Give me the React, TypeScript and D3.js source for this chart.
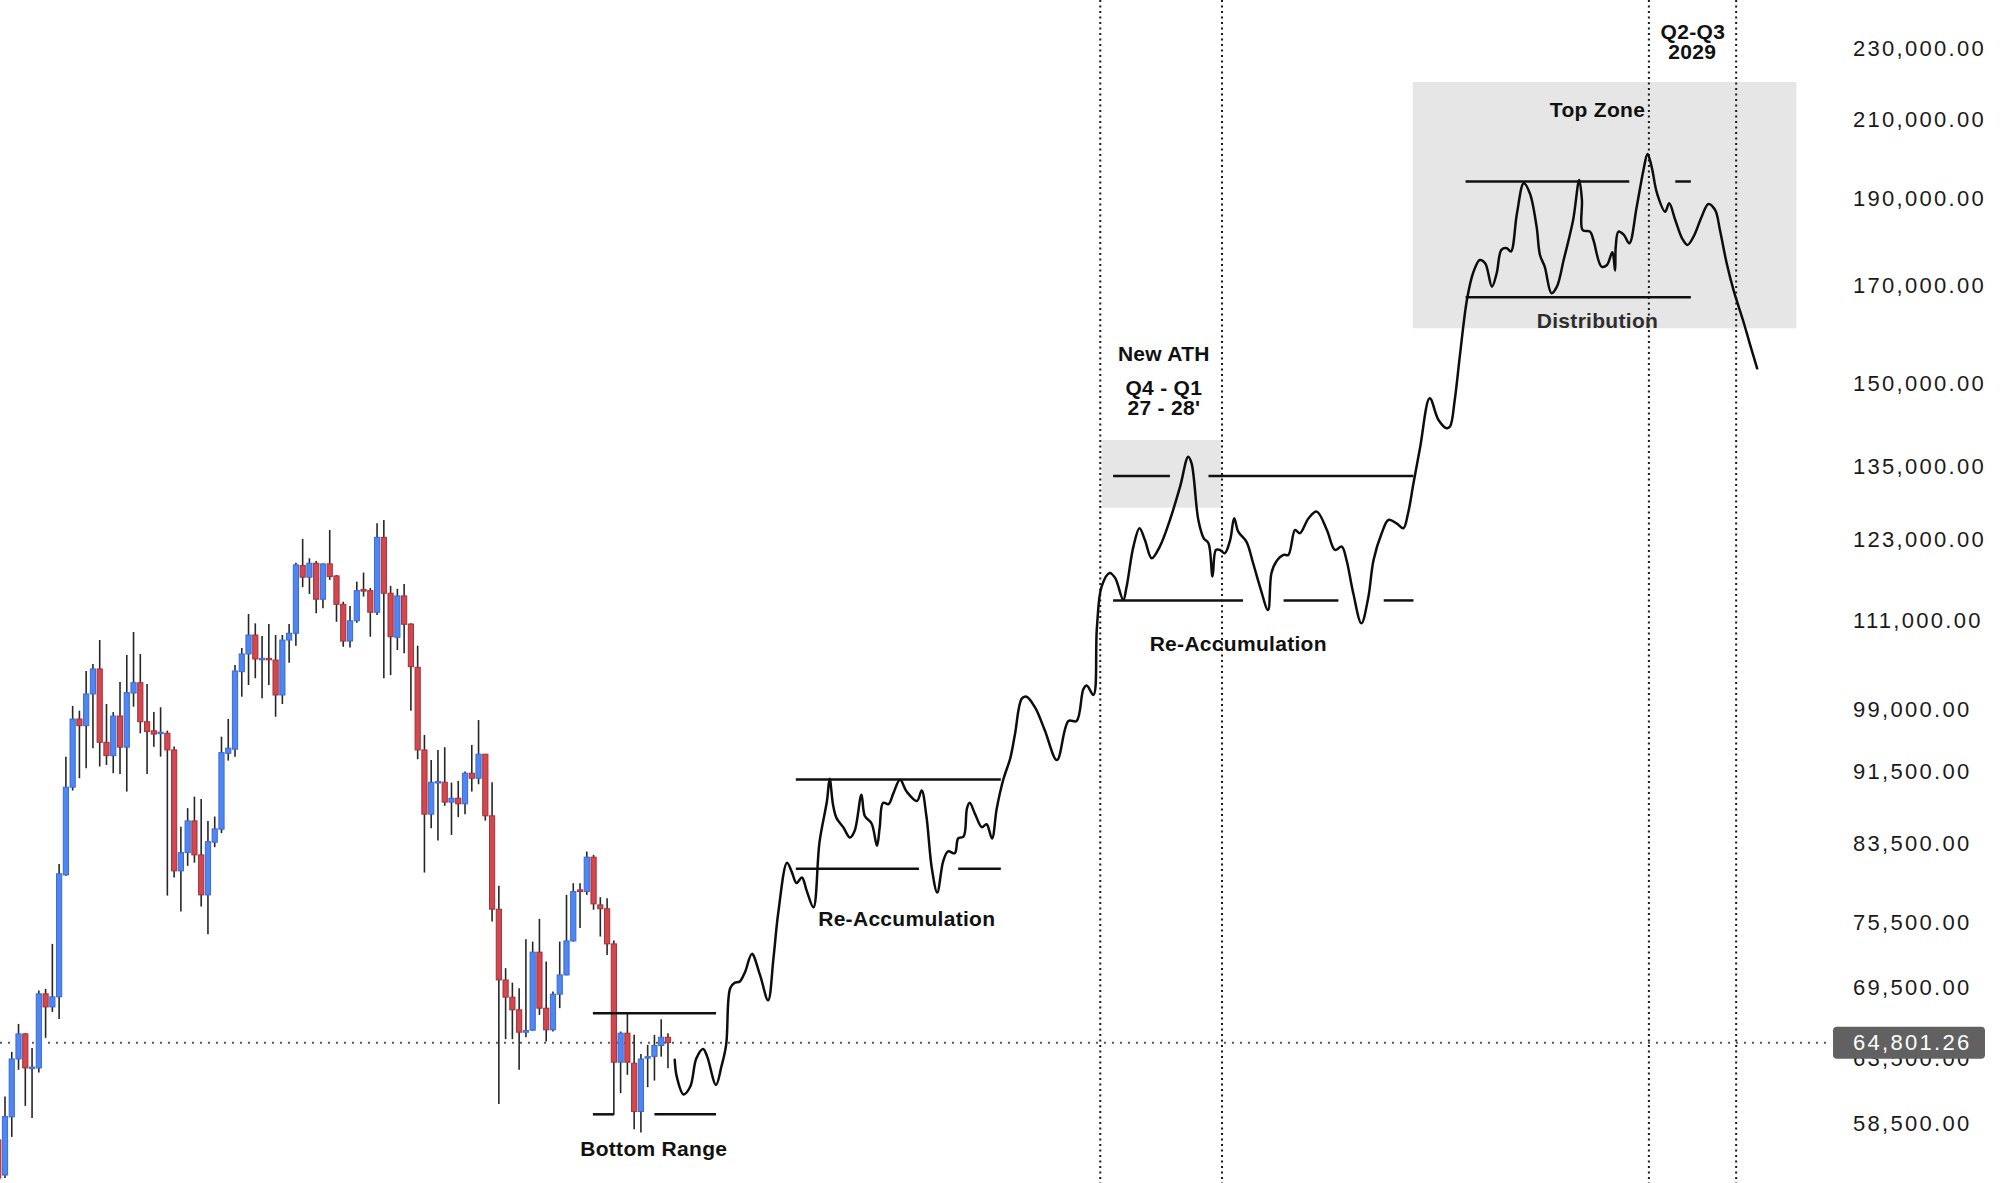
import React from 'react';
import * as d3 from 'd3';

const W = 2000;
const H = 1183;

// Weekly candles (BTC)
const candleOpen = [57250,54750,58960,63470,65530,62750,62750,68960,67820,68700,80240,89720,97860,97030,101030,104300,95000,93400,98230,94410,101150,102490,97520,96400,96100,96100,94080,80650,82550,85950,82310,78220,83650,85050,93680,94170,103940,106310,108910,105630,105720,105490,100900,108210,109150,118980,117230,119330,113980,119230,117420,113250,108070,110900,115390,115240,112110,123330,114860,108590,114470,110440,104520,94080,86690,90290,90290,88030,88470,87840,91330,90750,93570,86510,76810,70190,68670,67570,65670,65840,72720,67710,65870,68930,70640,73770,78720,78550,82070,77230,76850,73490,63210,65590,63130,59360,63580,63680,64570,65250];
const candleHigh = [57550,60500,64050,66370,65600,64370,69250,69400,73490,81370,93280,99490,98900,104030,104960,108210,99750,98730,102580,106170,109330,106310,102320,98730,99330,96420,94480,85300,87360,88650,88390,85950,86430,95680,97860,104830,107120,111860,110540,108770,110440,108910,108910,110440,119420,123070,120090,119680,119300,124500,117570,113630,113010,116570,117920,115640,125560,126090,115940,115500,116230,110540,107430,95890,92890,94080,94410,90240,90440,91520,94680,97730,93600,90290,79130,71250,69950,69460,73930,73700,75870,71850,69160,73700,78220,79390,79390,82660,82310,77990,77890,73800,65730,67280,65450,63880,64620,65450,66760,65590];
const candleLow = [54190,54540,57470,62600,59790,58880,62380,65200,67390,66790,80140,89340,90750,91920,94290,92110,92300,91330,91250,89220,99410,96100,91250,94470,93280,78150,79960,76580,81170,81500,77070,74400,83120,84620,92810,93280,100680,102190,103070,100470,102190,98150,99750,105130,107430,115750,114760,111960,112690,116820,110760,107290,107200,110620,114370,108670,111720,103070,103500,106850,106400,98900,92970,80480,85160,83820,87620,84430,86360,86690,89220,90060,85980,75610,59940,65090,65090,62600,65250,65800,67130,64890,65730,67710,70600,73700,74980,78220,76750,74180,72460,59110,60760,62200,58040,57790,61230,61750,63660,62730];
const candleClose = [54540,58980,63470,65530,62750,62820,68960,67820,68700,80350,89720,97860,97030,101030,104300,95000,93400,98230,94410,101200,102490,97520,96320,96000,96230,94080,80650,82550,85950,82310,78220,83710,85080,93760,94290,104030,106310,108910,105630,105720,105630,100900,108210,109150,119080,117230,119330,113980,119230,117320,113250,108070,110900,115240,115240,112110,123330,114860,108670,114470,110400,104600,94080,86690,90290,90370,88030,88470,87840,91330,90750,93570,86510,76810,70190,68670,67570,65670,65810,72720,67710,65870,68930,70640,73770,78550,78550,82070,77330,76850,73490,63210,65590,63210,59360,63470,63660,64570,65250,64800];

// Hand-drawn projection path: bar index and price
const projIndex = [100.0,100.3,101.3,102.3,103.2,104.2,104.8,106.1,106.9,107.6,108.2,108.9,109.6,110.4,111.4,112.6,113.8,114.6,115.3,116.6,117.3,118.0,118.8,119.5,120.5,121.4,122.5,122.9,123.4,123.9,124.9,125.9,126.6,127.6,128.1,129.1,129.9,130.3,130.8,131.6,132.3,133.3,134.3,135.8,136.5,137.2,138.0,138.8,139.7,140.4,141.4,141.9,142.7,143.2,143.6,144.4,145.4,146.1,146.9,147.6,148.6,149.6,150.3,151.3,152.0,153.3,154.7,156.5,158.2,159.4,160.4,160.9,161.9,162.4,163.1,164.3,165.1,166.3,166.8,167.8,168.7,169.5,170.5,171.7,173.2,174.7,175.9,176.4,177.4,178.2,178.9,179.5,180.0,180.6,181.3,182.1,182.7,183.3,184.5,185.5,186.5,187.7,188.2,188.9,190.0,190.7,191.7,192.4,193.7,194.9,196.4,197.6,198.6,199.3,200.3,201.5,202.5,203.3,204.5,205.5,206.7,207.7,208.4,209.2,210.2,211.6,212.9,214.1,214.6,215.3,216.1,217.1,218.0,219.0,219.8,220.8,221.5,222.2,223.0,223.6,224.5,225.5,226.4,227.4,227.9,228.6,229.6,230.4,231.4,232.8,233.7,234.1,234.2,235.3,235.8,237.0,237.8,238.6,239.0,239.1,239.5,240.3,241.1,242.2,243.2,243.8,244.4,245.2,246.4,247.0,247.9,248.9,249.7,250.6,251.8,252.8,253.8,254.5,255.5,256.5,257.9,258.9,260.0];
const projPrice = [63400,62060,60670,61280,63530,64290,63660,61410,62860,64620,69460,69950,70040,70910,72560,70640,68390,72200,76440,81500,80550,79410,79980,78650,76990,83660,88150,90690,87740,86280,85270,84140,84870,88870,86490,85670,83270,85270,87950,87810,88990,90560,89200,88150,89340,86490,80930,78460,81690,82680,82480,84050,84260,87330,87950,86700,85270,85590,84050,87330,90690,93090,96020,100430,100680,99250,96470,92870,97610,97610,101640,102120,100910,109880,115840,117870,117120,113880,115840,121880,124770,122910,120090,121880,126090,131550,136680,135530,126090,123180,122400,117320,121370,121370,120860,122910,126370,124230,122650,119330,115840,112440,117830,119570,120600,120600,124500,123970,126370,127440,124500,121370,121880,119830,114860,110540,114130,119830,123970,126090,125560,124770,127180,132120,138430,147220,143210,141720,142010,146900,155910,166860,172640,175580,174850,169720,172640,177850,178230,177470,186350,193600,191160,183200,176710,174100,168300,169720,175580,184750,194410,189520,182430,182040,180110,174100,174470,177320,173220,178600,182040,181270,179360,187920,196920,200970,197760,191160,186730,188720,184750,180500,178980,180880,185540,188570,187090,182430,174850,169010,162660,157910,152960];

const tickValues = [230000,210000,190000,170000,150000,135000,123000,111000,99000,91500,83500,75500,69500,63500,58500];
const lastPrice = 64801.26;
const cycleMarkers = [162.9, 180.9, 244.0, 256.9];

const levelPrice = [67280,59150,59150,90610,80880,80880,133360,133360,113810,113810,113810,194040,194040,167440];
const levelFrom  = [87.9,87.9,97.0,117.9,117.9,141.9,164.8,178.9,164.8,190.0,204.8,216.9,247.9,216.9];
const levelTo    = [106.1,91.0,106.1,148.2,136.1,148.2,173.2,209.2,184.0,198.1,209.2,241.1,250.2,250.2];

const zoneFrom = [163.1, 209.1];
const zoneTo = [180.8, 265.8];
const zoneTop = [139610, 220250];
const zoneBottom = [128090, 160960];

const labelText = ['Bottom Range','Re-Accumulation','Re-Accumulation','New ATH','Q4 - Q1',"27 - 28'",'Top Zone','Distribution','Q2-Q3','2029'];
const labelIndex = [96.9,134.3,183.3,172.3,172.3,172.3,236.4,236.4,250.5,250.4];
const labelPrice = [56600,75930,107670,155780,149170,145420,212540,162520,234830,228920];

const FONT = '"Liberation Sans", Arial, Helvetica, sans-serif';

export default function App() {
  const x = d3.scaleLinear().domain([0, 260]).range([-1.765, 1757.135]);
  const y = d3.scaleLog().domain([58500, 230000]).range([1123, 48]);
  const bodyW = 5.2;

  const proj = projIndex.map((v, i) => [v, projPrice[i]] as [number, number]);
  const line = d3.line<[number, number]>()
    .x(d => x(d[0]))
    .y(d => y(d[1]))
    .curve(d3.curveCatmullRom.alpha(0.5));

  const fmt = d3.format(',.2f');
  const lastY = y(lastPrice);

  return (
    <svg width={W} height={H} style={{ position: 'absolute', left: 0, top: 0, display: 'block', background: '#fff' }}>
      <rect x={0} y={0} width={W} height={H} fill="#ffffff" />
      {/* zones */}
      {zoneFrom.map((f, i) => (
        <rect key={'z' + i} x={x(f)} y={y(zoneTop[i])} width={x(zoneTo[i]) - x(f)}
          height={y(zoneBottom[i]) - y(zoneTop[i])} fill="#e6e6e6" />
      ))}
      {/* current price dotted line */}
      <line x1={0} x2={1832} y1={lastY} y2={lastY} stroke="#5a5a5a" strokeWidth={2} strokeDasharray="2 6" />
      {/* cycle markers */}
      {cycleMarkers.map((m, i) => (
        <line key={'m' + i} x1={x(m)} x2={x(m)} y1={0} y2={H} stroke="#1a1a1a" strokeWidth={2} strokeDasharray="2 3.5" />
      ))}
      {/* candles */}
      {candleOpen.map((o, i) => {
        const c = candleClose[i];
        const up = c >= o;
        const cx = x(i);
        const top = y(Math.max(o, c));
        const bot = y(Math.min(o, c));
        return (
          <g key={'c' + i}>
            <line x1={cx} x2={cx} y1={y(candleHigh[i])} y2={y(candleLow[i])} stroke="#262626" strokeWidth={1.6} />
            <rect x={cx - bodyW / 2} y={top} width={bodyW} height={Math.max(1.5, bot - top)}
              fill={up ? '#4f86f0' : '#d3474e'} stroke={up ? '#3a6bd8' : '#a3323a'} strokeWidth={1} />
          </g>
        );
      })}
      {/* levels */}
      {levelPrice.map((p, i) => (
        <line key={'l' + i} x1={x(levelFrom[i])} x2={x(levelTo[i])} y1={y(p)} y2={y(p)} stroke="#111" strokeWidth={2.5} />
      ))}
      {/* projection path */}
      <path d={line(proj) || ''} fill="none" stroke="#0d0d0d" strokeWidth={2.5} strokeLinejoin="round" strokeLinecap="round" />
      {/* annotation labels */}
      {labelText.map((t, i) => (
        <text key={'t' + i} x={x(labelIndex[i])} y={y(labelPrice[i])} textAnchor="middle" dominantBaseline="central"
          fontFamily={FONT} fontWeight="bold" fontSize={21} letterSpacing={0.3}
          fill={t === 'Distribution' ? '#2e2e2e' : '#111'}>{t}</text>
      ))}
      {/* right axis */}
      {tickValues.map((v, i) => (
        <text key={'a' + i} x={1853} y={y(v)} dominantBaseline="central" fontFamily={FONT} fontSize={22}
          letterSpacing={2.3} fill="#1a1a1a">{fmt(v)}</text>
      ))}
      <rect x={1833} y={lastY - 16} width={152} height={32} rx={4} fill="#616161" />
      <text x={1853} y={lastY} dominantBaseline="central" fontFamily={FONT} fontSize={22} letterSpacing={2.3} fill="#ffffff">{fmt(lastPrice)}</text>
    </svg>
  );
}
